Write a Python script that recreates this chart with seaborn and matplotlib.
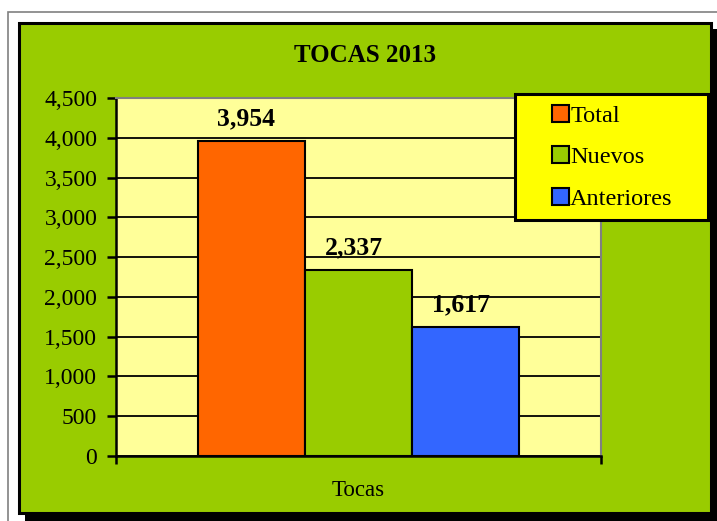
import matplotlib
matplotlib.use("Agg")

import matplotlib.pyplot as plt
from matplotlib.patches import Rectangle, Patch
from matplotlib.ticker import FuncFormatter, MultipleLocator
import seaborn as sns
import pandas as pd

# datos
categoria = ["Tocas"]
series = ["Total", "Nuevos", "Anteriores"]
valores = [3954, 2337, 1617]
colores = ["#FF6600", "#99CC00", "#3366FF"]
titulo = "TOCAS 2013"

W, H = 717, 521

sns.set_style("white")
plt.rcParams["font.family"] = ["Liberation Serif", "DejaVu Serif"]
plt.rcParams["text.color"] = "black"
plt.rcParams["xtick.color"] = "black"
plt.rcParams["ytick.color"] = "black"

fig = plt.figure(figsize=(W / 100, H / 100), dpi=100)
fig.patch.set_facecolor("white")


def fr(x, y, w, h):
    """pixel (arriba-izquierda) -> fracción de figura"""
    return (x / W, 1 - (y + h) / H), w / W, h / H


# marco exterior, sombra y panel verde
for (x, y, w, h), fc, ec, lw in [
    ((8, 12, 720, 520), "white", "#808080", 1.2),
    ((25, 29, 692, 492), "black", "black", 0),
    ((19, 23, 692, 490), "#99CC00", "black", 2.2),
]:
    xy, ww, hh = fr(x, y, w, h)
    fig.patches.append(Rectangle(xy, ww, hh, transform=fig.transFigure,
                                 facecolor=fc, edgecolor=ec, linewidth=lw, zorder=-5))

ax = fig.add_axes([116 / W, 1 - 456 / H, 485 / W, 358 / H])
ax.set_zorder(1)
ax.set_facecolor("#FFFF99")

df = pd.DataFrame({"cat": categoria * len(series), "serie": series, "val": valores})
sns.barplot(data=df, x="cat", y="val", hue="serie", hue_order=series,
            palette=colores, width=0.662, edgecolor="black", linewidth=1.5,
            saturation=1, legend=False, ax=ax, zorder=3)

ax.set_ylim(0, 4500)
ax.set_xlim(-0.5, 0.5)
ax.yaxis.set_major_locator(MultipleLocator(500))
ax.yaxis.set_major_formatter(FuncFormatter(lambda v, p: f"{v:,.0f}"))
ax.grid(axis="y", color="black", linewidth=1.3)
ax.set_axisbelow(True)
ax.set_xlabel("")
ax.set_ylabel("")

for s in ["top", "right"]:
    ax.spines[s].set_color("#808080")
    ax.spines[s].set_linewidth(1.5)
for s in ["left", "bottom"]:
    ax.spines[s].set_color("black")
    ax.spines[s].set_linewidth(1.8)

ax.tick_params(axis="y", direction="out", length=6.5, width=1.8, color="black",
               pad=7, labelsize=17, left=True)
ax.set_xticks([0])
ax.set_xticklabels(categoria)
ax.tick_params(axis="x", which="major", length=0, pad=17, labelsize=16.5)
ax.set_xticks([-0.5, 0.5], minor=True)
ax.tick_params(axis="x", which="minor", direction="out", length=6, width=1.8,
               color="black", bottom=True)

# etiquetas de valores
for bar, v in zip(ax.patches, valores):
    ax.annotate(f"{v:,}", (bar.get_x() + bar.get_width() / 2, bar.get_height()),
                xytext=(-5, 16), textcoords="offset pixels", ha="center",
                va="baseline", fontsize=18.5, fontweight="bold")

fig.text(365 / W, 1 - 55 / H, titulo, ha="center", va="center",
         fontsize=18, fontweight="bold")

# leyenda
xy, ww, hh = fr(515, 94, 193, 126)
fig.patches.append(Rectangle(xy, ww, hh, transform=fig.transFigure,
                             facecolor="#FFFF00", edgecolor="black",
                             linewidth=2.2, zorder=5))
handles = [Patch(facecolor=c, edgecolor="black", linewidth=1.5) for c in colores]
leg = fig.legend(handles, series, loc="upper left",
                 bbox_to_anchor=(552 / W, 1 - 105 / H), frameon=False,
                 fontsize=17.5, handlelength=0.7, handleheight=0.7,
                 handletextpad=0.05, labelspacing=0.8, borderpad=0,
                 borderaxespad=0)
leg.set_zorder(6)

fig.savefig("out.png", dpi=100)
